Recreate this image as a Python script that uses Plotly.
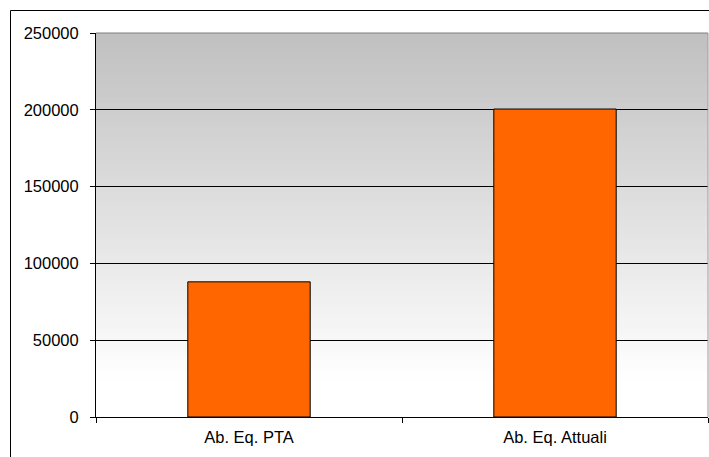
import plotly.graph_objects as go

# Data
categories = ["Ab. Eq. PTA", "Ab. Eq. Attuali"]
values = [88000, 200500]
y_ticks = [0, 50000, 100000, 150000, 200000, 250000]

fig = go.Figure()
fig.add_trace(go.Bar(
    x=categories,
    y=values,
    width=0.4,
    marker=dict(color="#FF6600", line=dict(color="#000000", width=1)),
    hoverinfo="x+y",
))

# Vertical grey-to-white gradient behind the plot area: overlapping bands,
# each running to the top edge so no seams appear between them
shapes = []
n_bands = 90
g_start = 0.096  # fraction of plot height where the gradient fades to white
for i in range(n_bands):
    y0 = g_start + (1 - g_start) * i / n_bands
    t = (i + 1) / n_bands
    level = round(255 - (255 - 192) * t)
    shapes.append(dict(
        type="rect", xref="x domain", yref="y domain",
        x0=0, x1=1, y0=y0, y1=1,
        fillcolor=f"rgb({level},{level},{level})",
        line=dict(width=0), layer="below",
    ))

# Grey top and right edges of the plot area
shapes.append(dict(type="line", xref="x domain", yref="y domain",
                   x0=0, x1=1, y0=1, y1=1,
                   line=dict(color="#7f7f7f", width=1)))
shapes.append(dict(type="line", xref="x domain", yref="y domain",
                   x0=1, x1=1, y0=0, y1=1,
                   line=dict(color="#9a9a9a", width=1)))

# Outer chart frame: only its left and top edges lie on the canvas
frame_left = (10.5 - 96) / 612
frame_top = 1 + (33 - 10.5) / 384
shapes.append(dict(type="line", xref="paper", yref="paper",
                   x0=frame_left, x1=frame_left, y0=frame_top, y1=-0.2,
                   line=dict(color="#000000", width=1), layer="above"))
shapes.append(dict(type="line", xref="paper", yref="paper",
                   x0=frame_left, x1=1.05, y0=frame_top, y1=frame_top,
                   line=dict(color="#000000", width=1), layer="above"))

fig.update_layout(
    width=709, height=457,
    margin=dict(l=96, r=1, t=33, b=40),
    paper_bgcolor="white",
    plot_bgcolor="white",
    showlegend=False,
    bargap=0.6,
    font=dict(family="Liberation Sans, Arial, sans-serif", size=16, color="#000000"),
    shapes=shapes,
)

fig.update_xaxes(
    type="category",
    showgrid=False,
    showline=True, linecolor="#000000", linewidth=1,
    ticks="outside", tickson="boundaries", ticklen=5,
    tickcolor="#000000", tickwidth=1,
    ticklabelstandoff=5,
    tickfont=dict(size=16.5),
)

fig.update_yaxes(
    range=[0, 250000],
    tickvals=y_ticks,
    ticktext=[str(v) for v in y_ticks],
    showgrid=True, gridcolor="#000000", gridwidth=1,
    showline=True, linecolor="#000000", linewidth=1,
    ticks="outside", ticklen=5, tickcolor="#000000", tickwidth=1,
    ticklabelstandoff=8,
    zeroline=False,
    tickfont=dict(size=16.5),
)

fig.write_html("out.html")
